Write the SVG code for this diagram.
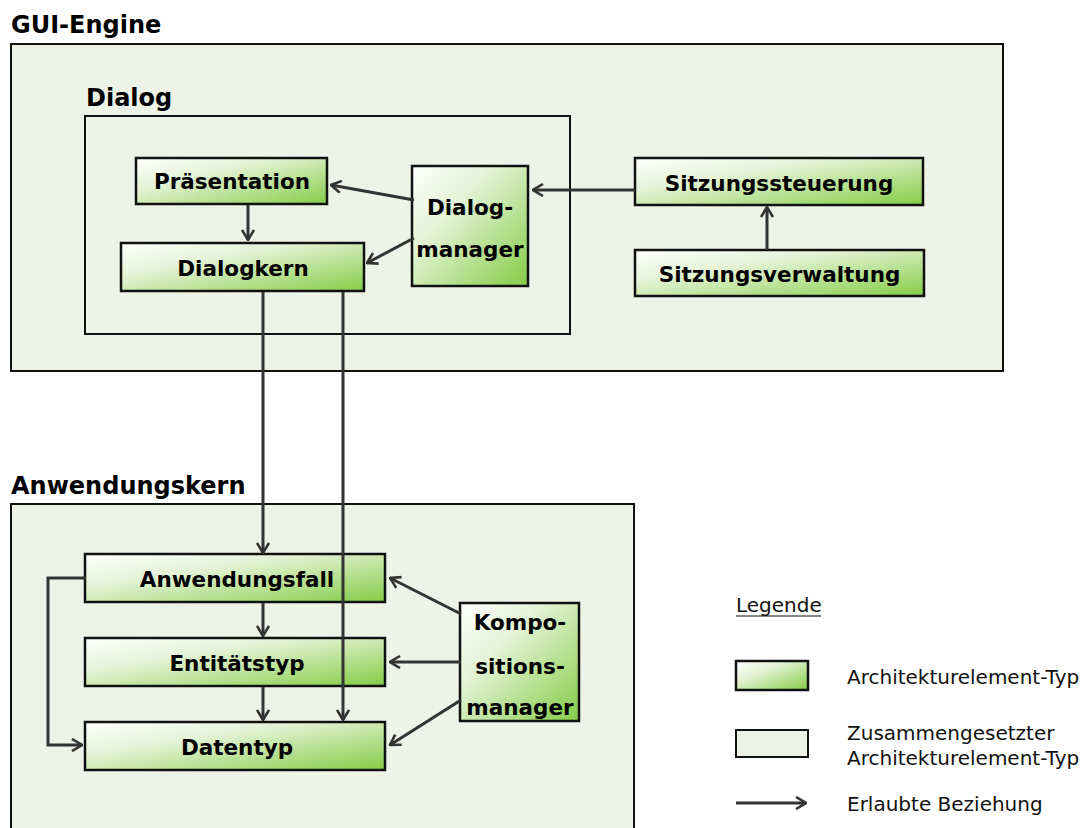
<svg xmlns="http://www.w3.org/2000/svg" width="1084" height="828" viewBox="0 0 1084 828">
  <style>
    .container { fill: #eef3e8; stroke: #111; stroke-width: 2; }
    .elem { fill: url(#elemGrad); stroke: #111; stroke-width: 2.5; }
    .title { font-family: "DejaVu Sans", Verdana, sans-serif; font-weight: bold; font-size: 24px; fill: #000; }
    .label { font-family: "DejaVu Sans", Verdana, sans-serif; font-weight: bold; font-size: 21.5px; fill: #000; text-anchor: middle; }
    .legend { font-family: "DejaVu Sans", Verdana, sans-serif; font-size: 20px; fill: #111; }
    .conn { fill: none; stroke: #333; stroke-width: 3; marker-end: url(#arrow); }
  </style>
  <defs>
    <linearGradient id="elemGrad" x1="0" y1="0" x2="1" y2="1">
      <stop offset="0" stop-color="#ffffff"/>
      <stop offset="0.35" stop-color="#e4f3d6"/>
      <stop offset="1" stop-color="#84cc46"/>
    </linearGradient>
    <marker id="arrow" viewBox="0 0 12 14" refX="11" refY="7" markerWidth="12" markerHeight="14" markerUnits="userSpaceOnUse" orient="auto">
      <path d="M1,1 L11,7 L1,13" fill="none" stroke="#333" stroke-width="2.6" stroke-linejoin="miter"/>
    </marker>
  </defs>

  <!-- GUI-Engine container -->
  <g id="gui-engine">
    <text class="title" x="11" y="33">GUI-Engine</text>
    <rect class="container" x="11" y="44" width="992" height="327"/>
  </g>

  <!-- Dialog container -->
  <g id="dialog">
    <text class="title" x="86" y="106">Dialog</text>
    <rect class="container" x="85" y="116" width="485" height="218"/>
  </g>

  <!-- Anwendungskern container -->
  <g id="anwendungskern">
    <text class="title" x="11" y="494">Anwendungskern</text>
    <rect class="container" x="11" y="504" width="623" height="340"/>
  </g>

  <!-- Architecture element nodes -->
  <g id="praesentation">
    <rect class="elem" x="136" y="158" width="191" height="46"/>
    <text class="label" x="232" y="189">Präsentation</text>
  </g>
  <g id="dialogkern">
    <rect class="elem" x="121" y="243" width="243" height="48"/>
    <text class="label" x="243" y="276">Dialogkern</text>
  </g>
  <g id="dialogmanager">
    <rect class="elem" x="412" y="166" width="116" height="120"/>
    <text class="label" x="470" y="215">Dialog-</text>
    <text class="label" x="470" y="257">manager</text>
  </g>
  <g id="sitzungssteuerung">
    <rect class="elem" x="635" y="158" width="288" height="47"/>
    <text class="label" x="779" y="191">Sitzungssteuerung</text>
  </g>
  <g id="sitzungsverwaltung">
    <rect class="elem" x="635" y="250" width="289" height="46"/>
    <text class="label" x="779.5" y="282">Sitzungsverwaltung</text>
  </g>
  <g id="anwendungsfall">
    <rect class="elem" x="85" y="554" width="300" height="48"/>
    <text class="label" x="237" y="587">Anwendungsfall</text>
  </g>
  <g id="entitaetstyp">
    <rect class="elem" x="85" y="638" width="300" height="48"/>
    <text class="label" x="237" y="671">Entitätstyp</text>
  </g>
  <g id="datentyp">
    <rect class="elem" x="85" y="722" width="300" height="48"/>
    <text class="label" x="237" y="755">Datentyp</text>
  </g>
  <g id="kompositionsmanager">
    <rect class="elem" x="460" y="603" width="119" height="118"/>
    <text class="label" x="520" y="630">Kompo-</text>
    <text class="label" x="520" y="674">sitions-</text>
    <text class="label" x="520" y="715">manager</text>
  </g>

  <!-- Connectors (drawn above nodes; one passes across the Anwendungskern boxes) -->
  <g id="connectors">
    <line class="conn" x1="414" y1="200" x2="331" y2="185"/>
    <line class="conn" x1="414" y1="238" x2="367" y2="263"/>
    <line class="conn" x1="635" y1="190" x2="533" y2="190"/>
    <line class="conn" x1="767" y1="250" x2="767" y2="207"/>
    <line class="conn" x1="248" y1="205" x2="248" y2="240"/>
    <line class="conn" x1="263" y1="292" x2="263" y2="553"/>
    <line class="conn" x1="343" y1="292" x2="343" y2="720"/>
    <line class="conn" x1="263" y1="603" x2="263" y2="636"/>
    <line class="conn" x1="263" y1="687" x2="263" y2="720"/>
    <polyline class="conn" points="86,578 48,578 48,745 82,745"/>
    <line class="conn" x1="461" y1="614" x2="390" y2="578"/>
    <line class="conn" x1="461" y1="662" x2="390" y2="662"/>
    <line class="conn" x1="461" y1="700" x2="390" y2="745"/>
  </g>

  <!-- Legend -->
  <g id="legend">
    <text class="legend" x="736" y="612">Legende</text>
    <line x1="736" y1="616" x2="821" y2="616" stroke="#111" stroke-width="1.2"/>
    <rect class="elem" x="736" y="661" width="72" height="29" stroke-width="2"/>
    <text class="legend" x="847" y="684">Architekturelement-Typ</text>
    <rect class="container" x="736" y="730" width="72" height="27"/>
    <text class="legend" x="847" y="740">Zusammengesetzter</text>
    <text class="legend" x="847" y="765">Architekturelement-Typ</text>
    <line class="conn" x1="736" y1="803" x2="806" y2="803"/>
    <text class="legend" x="847" y="811">Erlaubte Beziehung</text>
  </g>
</svg>
